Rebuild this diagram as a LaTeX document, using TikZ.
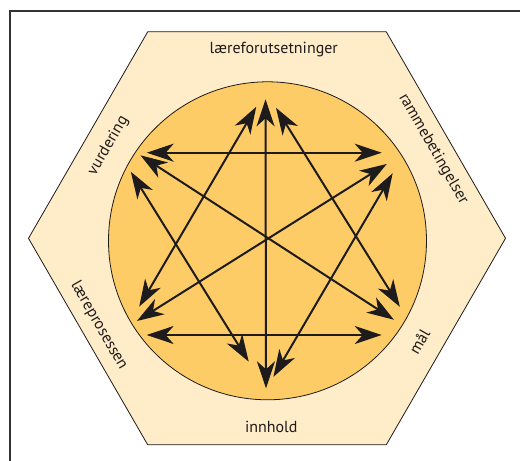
\documentclass[tikz,border=0pt]{standalone}
\usepackage{fontspec}
\setmainfont{PT Sans}
\usetikzlibrary{arrows.meta}
\definecolor{hexfill}{RGB}{255,236,200}
\definecolor{discfill}{RGB}{254,204,102}
\definecolor{ink}{RGB}{30,27,28}

\begin{document}
\begin{tikzpicture}[x=1pt, y=1pt,
    factor/.style = {text=ink, font=\fontsize{16}{19}\selectfont, inner sep=0pt},
    link/.style = {ink, line width=2pt, >={Stealth[length=27pt,width=18pt,inset=8pt]}, <->}]
  \useasboundingbox (0,0) rectangle (520,461);
  % frame
  \draw[black!80, line width=1.2pt] (10,0) |- (520,450);
  % hexagon and disc
  \draw[ink, line width=0.8pt, fill=hexfill, shift={(267,222.7)}]
    (0:238.5) -- (60:238.5) -- (120:238.5) -- (180:238.5) -- (240:238.5) -- (300:238.5) -- cycle;
  \draw[ink, line width=0.8pt, fill=discfill] (267.5,220.2) circle[radius=159];

  \node[factor] (forut) at (273.8,411) {læreforutsetninger};
  \node[factor, rotate=-60] (ramme) at (433.3,312) {rammebetingelser};
  \node[factor, rotate=60] (maal) at (419.3,119.3) {mål};
  \node[factor] (innhold) at (271.3,34.3) {innhold};
  \node[factor, rotate=-60] (prosess) at (99,135.3) {læreprosessen};
  \node[factor, rotate=60] (vurd) at (108.3,315.3) {vurdering};

  % corners of the star
  \coordinate (F) at (265.5,370);
  \coordinate (R) at (404.7,308.3);
  \coordinate (M) at (417.4,126);
  \coordinate (I) at (266,71.5);
  \coordinate (P) at (122.6,126);
  \coordinate (V) at (119,308.3);

  \draw[link, shorten <=8.3pt, shorten >=1.2pt] (F) -- (I);
  \draw[link, shorten <=27.7pt, shorten >=23pt] (V) -- (R);
  \draw[link, shorten <=24pt, shorten >=35.7pt] (P) -- (M);
  \draw[link, shorten <=18.3pt, shorten >=32.9pt] (F) -- (P);
  \draw[link, shorten <=19.8pt, shorten >=33.2pt] (F) -- (M);
  \draw[link, shorten <=22.4pt, shorten >=32.7pt] (V) -- (I);
  \draw[link, shorten <=23.8pt, shorten >=14.7pt] (R) -- (I);
  \draw[link, shorten <=25.6pt, shorten >=28pt] ([yshift=11.3pt]V) -- (M);
  \draw[link, shorten <=16.9pt, shorten >=21.2pt] ([yshift=5pt]P) -- (R);
\end{tikzpicture}
\end{document}
